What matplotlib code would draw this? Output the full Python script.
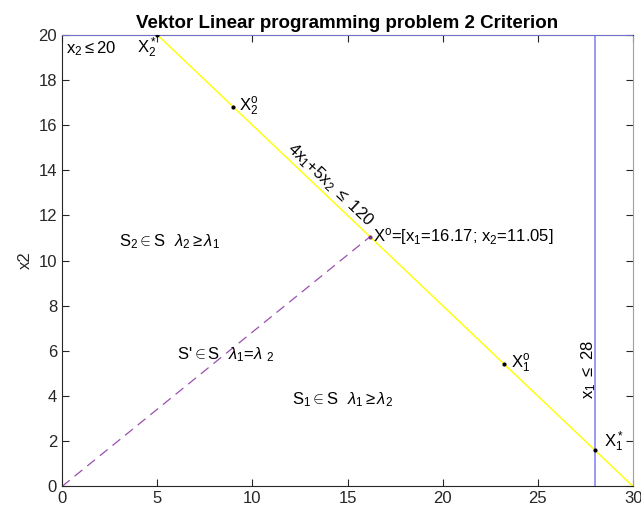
import matplotlib
matplotlib.use('Agg')
import matplotlib.pyplot as plt

# restricoes e pontos do problema
x_lim = [0, 30]
y_lim = [0, 20]
x_ticks = [0, 5, 10, 15, 20, 25, 30]
y_ticks = [0, 2, 4, 6, 8, 10, 12, 14, 16, 18, 20]

linha_x = [5, 30]          # 4x1 + 5x2 = 120
linha_y = [20, 0]
x1_max = 28
x2_max = 20

x_otimo = [0, 16.17]       # reta lambda1 = lambda2
y_otimo = [0, 11.05]

pontos = {'X2*': (5, 20), 'X2o': (9, 16.8), 'Xo': (16.17, 11.05),
          'X1o': (23.2, 5.44), 'X1*': (28, 1.6)}

plt.rcParams['font.family'] = ['Liberation Sans', 'DejaVu Sans']
plt.rcParams['mathtext.fontset'] = 'custom'
plt.rcParams['mathtext.rm'] = 'Liberation Sans'
plt.rcParams['mathtext.it'] = 'Liberation Sans:italic'

fig = plt.figure(figsize=(6.41, 5.13), dpi=100)
ax = fig.add_axes([0.0967, 0.0517, 0.891, 0.8807])

ax.plot(linha_x, linha_y, color='#ffff00', lw=1)
ax.axvline(x1_max, color='#7f7ff5', lw=1.1)
ax.axhline(x2_max, color='#7f7ff5', lw=1.2, zorder=5)
ax.plot(x_otimo, y_otimo, '--', color='#9b4fb0', lw=0.9, dashes=(8, 5))

for k, (px, py) in pontos.items():
    c = '#7e2f8e' if k == 'Xo' else 'k'
    ax.plot(px, py, '.', color=c, ms=4, zorder=6)

fs = 12
ax.text(0.2, 19.4, r'x$_2\leq$20', fontsize=fs, va='center')
ax.text(3.95, 19.4, r'X$_2^*$', fontsize=fs, va='center')
ax.text(9.3, 16.8, r'X$_2^{\rm o}$', fontsize=fs, va='center')
ax.text(14.1, 13.35, r'4x$_1$+5x$_2$ $\leq$ 120', fontsize=fs,
        rotation=-43.5, ha='center', va='center', rotation_mode='anchor')
ax.text(16.35, 11.05, r'X$^{\rm o}$=[x$_1$=16.17; x$_2$=11.05]', fontsize=fs,
        va='center')
ax.text(3.0, 10.85, r'S$_2$$\in$S  $\lambda_2\geq\lambda_1$', fontsize=fs,
        va='center')
ax.text(6.05, 5.82, r"S'$\in$S  $\lambda_1$=$\lambda$ $_2$", fontsize=fs,
        va='center')
ax.text(12.1, 3.83, r'S$_1$$\in$S  $\lambda_1\geq\lambda_2$', fontsize=fs,
        va='center')
ax.text(23.6, 5.45, r'X$_1^{\rm o}$', fontsize=fs, va='center')
ax.text(27.65, 5.2, r'x$_1$ $\leq$ 28', fontsize=fs, rotation=90,
        ha='center', va='center')
ax.text(28.45, 1.98, r'X$_1^*$', fontsize=fs, va='center')

ax.set_xlim(x_lim)
ax.set_ylim(y_lim)
ax.set_xticks(x_ticks)
ax.set_yticks(y_ticks)
ax.tick_params(direction='in', top=True, right=True, labelsize=fs,
               colors='#262626', length=5)
for s in ax.spines.values():
    s.set_color('#262626')
    s.set_linewidth(0.8)
ax.spines['right'].set_color('#a0a0a0')
ax.set_ylabel('x2', fontsize=fs, color='#262626')
ax.set_title('Vektor Linear programming problem 2 Criterion', fontsize=13.5,
             fontweight='bold', pad=5)

fig.savefig('out.png', dpi=100)
